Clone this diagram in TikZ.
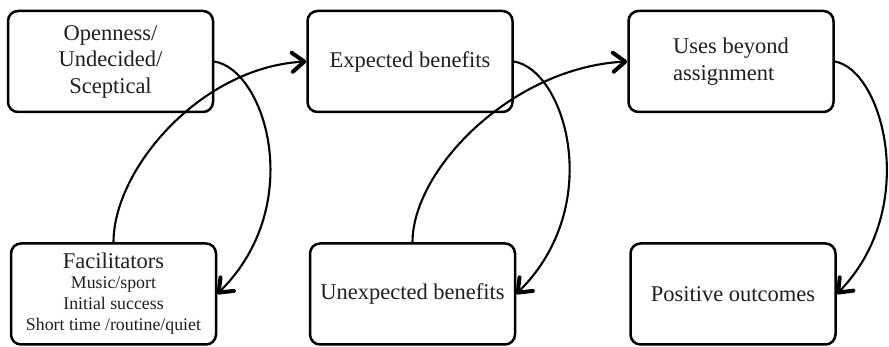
\documentclass[tikz,border=0pt]{standalone}
\usepackage{fontspec}
\setmainfont{Liberation Serif}
\usetikzlibrary{arrows.meta}
\begin{document}
\begin{tikzpicture}[x=1pt,y=-1pt,
  stage/.style={draw, line width=2.5pt, rounded corners=10pt,
    minimum width=205pt, minimum height=101pt, inner sep=2pt,
    font=\fontsize{22.5}{26.5}\selectfont, text=black!88},
  link/.style={line width=2.1pt,
    -{Straight Barb[length=12pt,width=19pt,line width=4pt 0,round]}}]
\useasboundingbox (0,0) rectangle (889,347);

% top row
\node[stage, align=center] (open) at (110.5,61.5) {Openness/\\Undecided/\\Sceptical};
\node[stage] (exp) at (410,61.5) {Expected benefits};
\node[stage, align=left] (uses) at (731,61.5) {Uses beyond\\assignment};

% bottom row
\node[stage, align=center, font=\fontsize{17.8}{21}\selectfont] (fac) at (113.5,294)
  {{\fontsize{22.5}{21}\selectfont Facilitators}\\[-1pt]Music/sport\\Initial success\\Short time /routine/quiet};
\node[stage] (unexp) at (412.5,294) {Unexpected benefits};
\node[stage] (pos) at (733,294) {Positive outcomes};

% connectors
\draw[link] (open.east) .. controls +(51,8) and +(90,-89) .. (fac.east);
\draw[link] (fac.north) .. controls +(0,-73) and +(-106,6) .. (exp.west);
\draw[link] (exp.east) .. controls +(51,8) and +(90,-89) .. (unexp.east);
\draw[link] (unexp.north) .. controls +(0,-73) and +(-115,6) .. (uses.west);
\draw[link] (uses.east) .. controls +(48,8) and +(84,-86) .. (pos.east);
\end{tikzpicture}
\end{document}
